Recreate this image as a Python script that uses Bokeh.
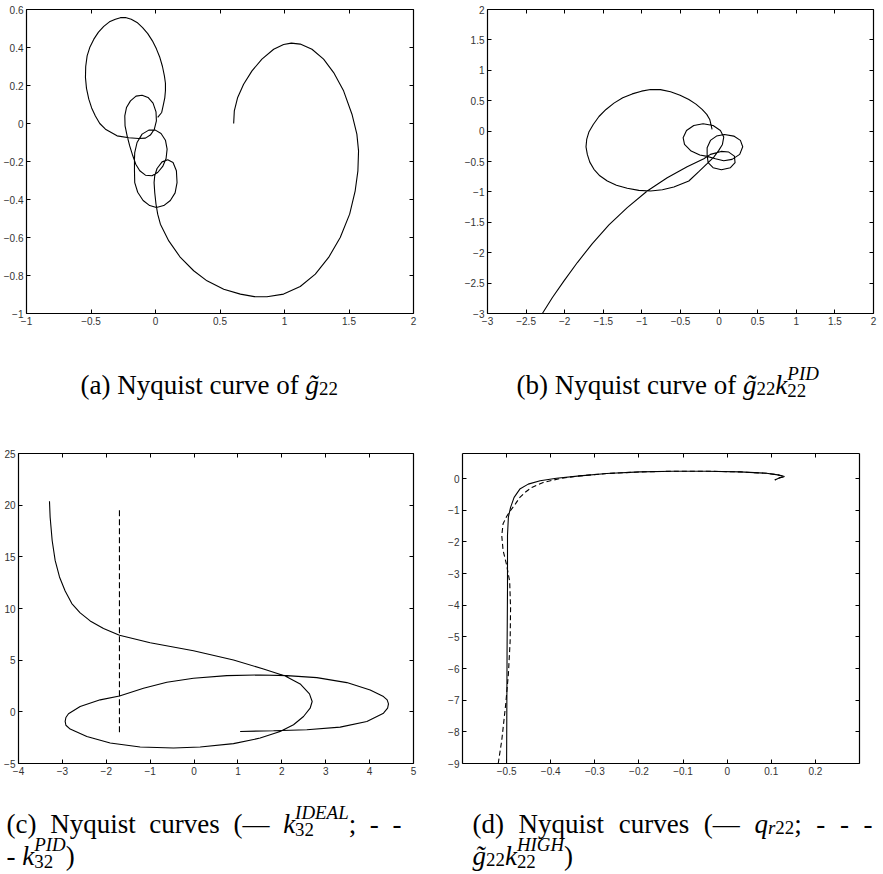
from bokeh.plotting import figure
from bokeh.layouts import column, row
from bokeh.models import Range1d, FixedTicker, LinearAxis, CustomJSTickFormatter, ColumnDataSource
from bokeh.core.properties import value
from bokeh.embed import file_html
from bokeh.resources import INLINE

# ---------------------------------------------------------------- data
# (a) Nyquist curve of g~22  (real / imaginary parts)
a_re = [0.606, 0.611, 0.637, 0.683, 0.748, 0.825, 0.916, 0.993, 1.053, 1.122, 1.213, 1.303, 1.381,
        1.458, 1.523, 1.561, 1.574, 1.569, 1.548, 1.505, 1.432, 1.342, 1.239, 1.122, 0.993, 0.864,
        0.766, 0.658, 0.529, 0.399, 0.296, 0.193, 0.103, 0.038, 0.017, 0.004, -0.006, -0.011, -0.006,
        0.012, 0.051, 0.095, 0.136, 0.162, 0.167, 0.152, 0.115, 0.064, 0.007, -0.045, -0.096, -0.138,
        -0.161, -0.163, -0.163, -0.161, -0.143, -0.104, -0.052, -0.001, 0.043, 0.077, 0.090, 0.082,
        0.056, 0.017, -0.027, -0.078, -0.122, -0.153, -0.176, -0.200, -0.220, -0.236, -0.238, -0.225,
        -0.194, -0.151, -0.104, -0.058, -0.019, 0.004, 0.007, -0.009, -0.040, -0.078, -0.130, -0.207,
        -0.298, -0.388, -0.432, -0.466, -0.495, -0.517, -0.535, -0.543, -0.541, -0.530, -0.508, -0.478,
        -0.442, -0.401, -0.357, -0.311, -0.272, -0.233, -0.188, -0.143, -0.100, -0.060, -0.024, 0.007,
        0.034, 0.054, 0.069, 0.077, 0.077, 0.072, 0.062, 0.048, 0.017, -0.009]
a_im = [0.0, 0.067, 0.137, 0.207, 0.277, 0.339, 0.391, 0.416, 0.423, 0.418, 0.391, 0.339, 0.268,
        0.172, 0.049, -0.056, -0.144, -0.249, -0.354, -0.477, -0.600, -0.705, -0.793, -0.858, -0.898,
        -0.912, -0.911, -0.898, -0.872, -0.828, -0.775, -0.705, -0.618, -0.530, -0.477, -0.425, -0.363,
        -0.311, -0.275, -0.237, -0.202, -0.191, -0.205, -0.249, -0.311, -0.365, -0.405, -0.432, -0.442,
        -0.432, -0.405, -0.362, -0.311, -0.249, -0.188, -0.153, -0.100, -0.056, -0.035, -0.035, -0.053,
        -0.088, -0.135, -0.184, -0.226, -0.258, -0.275, -0.272, -0.249, -0.214, -0.170, -0.118, -0.065,
        -0.012, 0.040, 0.084, 0.119, 0.144, 0.149, 0.137, 0.107, 0.061, 0.014, -0.030, -0.061, -0.077,
        -0.079, -0.075, -0.065, -0.030, 0.000, 0.040, 0.082, 0.128, 0.185, 0.242, 0.300, 0.356, 0.403,
        0.444, 0.481, 0.511, 0.535, 0.549, 0.557, 0.558, 0.549, 0.532, 0.505, 0.473, 0.435, 0.393,
        0.347, 0.300, 0.251, 0.212, 0.172, 0.135, 0.102, 0.058, 0.032]

# (b) Nyquist curve of g~22 * k22^PID
b_re = [-2.289, -2.159, -2.009, -1.836, -1.642, -1.427, -1.190, -0.931, -0.672, -0.414, -0.198,
        -0.112, 0.026, 0.125, 0.198, 0.207, 0.147, 0.030, -0.078, -0.142, -0.155, -0.155, -0.112,
        -0.034, 0.069, 0.190, 0.276, 0.306, 0.267, 0.168, 0.060, -0.047, -0.155, -0.250, -0.362,
        -0.448, -0.466, -0.422, -0.328, -0.207, -0.078, 0.017, 0.060, 0.043, -0.004, -0.069, -0.155,
        -0.263, -0.392, -0.586, -0.735, -0.888, -1.040, -1.190, -1.330, -1.448, -1.545, -1.621,
        -1.675, -1.707, -1.724, -1.715, -1.685, -1.630, -1.556, -1.465, -1.362, -1.248, -1.125,
        -1.005, -0.888, -0.760, -0.629, -0.505, -0.392, -0.300, -0.220, -0.160, -0.121, -0.091]
b_im = [-3.0, -2.737, -2.463, -2.162, -1.850, -1.544, -1.259, -0.985, -0.766, -0.586, -0.454,
        -0.383, -0.334, -0.345, -0.411, -0.520, -0.602, -0.635, -0.602, -0.520, -0.394, -0.274,
        -0.153, -0.082, -0.055, -0.082, -0.153, -0.257, -0.383, -0.465, -0.487, -0.454, -0.416,
        -0.394, -0.328, -0.219, -0.109, 0.011, 0.093, 0.120, 0.093, 0.011, -0.099, -0.219, -0.317,
        -0.427, -0.536, -0.668, -0.821, -0.920, -0.965, -0.985, -0.975, -0.941, -0.890, -0.821,
        -0.735, -0.629, -0.510, -0.383, -0.260, -0.137, -0.010, 0.109, 0.240, 0.356, 0.460, 0.547,
        0.612, 0.657, 0.684, 0.682, 0.646, 0.590, 0.520, 0.444, 0.356, 0.275, 0.192, 0.027]

# (c) k32^IDEAL (solid) and k32^PID (dashed)
c_ideal_re = [-3.294, -3.279, -3.233, -3.165, -3.066, -2.937, -2.785, -2.595, -2.367, -2.063, -1.699,
              -1.000, -0.013, 0.899, 1.582, 2.076, 2.418, 2.630, 2.691, 2.645, 2.494, 2.266, 1.962,
              1.506, 0.899, 0.139, -0.468, -1.228, -1.911, -2.443, -2.823, -2.920, -2.937, -2.920,
              -2.861, -2.595, -2.139, -1.699, -1.152, -0.620, -0.013, 0.747, 1.506, 2.114, 2.798,
              3.481, 4.013, 4.316, 4.400, 4.430, 4.410, 4.316, 3.937, 3.329, 2.570, 1.810, 1.050]
c_ideal_im = [20.37, 18.83, 16.58, 14.65, 13.05, 11.70, 10.48, 9.58, 8.80, 8.07, 7.42,
              6.68, 5.91, 5.01, 4.15, 3.47, 2.70, 1.74, 1.00, 0.35, -0.45, -1.25, -1.90,
              -2.54, -3.08, -3.41, -3.50, -3.41, -3.02, -2.38, -1.67, -1.30, -0.93, -0.55,
              -0.19, 0.51, 1.16, 1.54, 2.28, 2.86, 3.25, 3.50, 3.57, 3.50, 3.31,
              2.83, 2.12, 1.48, 1.15, 0.77, 0.35, -0.13, -0.93, -1.48, -1.74, -1.83, -1.90]
c_pid_re = [-1.70, -1.70, -1.70, -1.70, -1.70]
c_pid_im = [19.5, 14.0, 8.0, 2.0, -2.1]

# (d) q_r22 (solid) and g~22 * k22^HIGH (dashed)
d_qr_re = [-0.500, -0.499, -0.498, -0.498, -0.496, -0.491, -0.483, -0.470, -0.451, -0.424, -0.387,
           -0.334, -0.273, -0.198, -0.122, -0.047, 0.029, 0.089, 0.115, 0.130, 0.118, 0.108]
d_qr_im = [-9.0, -5.55, -3.47, -1.80, -1.22, -0.91, -0.595, -0.334, -0.177, -0.073, 0.010,
           0.084, 0.157, 0.209, 0.230, 0.230, 0.209, 0.167, 0.115, 0.063, 0.020, -0.045]
d_high_re = [-0.519, -0.511, -0.502, -0.496, -0.492, -0.491, -0.493, -0.500, -0.508, -0.511, -0.508,
             -0.500, -0.491, -0.480, -0.470, -0.458, -0.443, -0.417, -0.379, -0.334, -0.273, -0.198,
             -0.122, -0.047, 0.029, 0.089, 0.115, 0.130, 0.118, 0.108]
d_high_im = [-9.0, -8.27, -7.12, -6.18, -5.14, -4.09, -3.26, -2.73, -2.27, -1.80, -1.43,
             -1.20, -1.01, -0.80, -0.595, -0.438, -0.28, -0.125, 0.0, 0.084, 0.157, 0.209,
             0.230, 0.230, 0.209, 0.167, 0.115, 0.063, 0.020, -0.045]

# tick positions
a_xticks = [-1, -0.5, 0, 0.5, 1, 1.5, 2]
a_yticks = [-1, -0.8, -0.6, -0.4, -0.2, 0, 0.2, 0.4, 0.6]
b_xticks = [-3, -2.5, -2, -1.5, -1, -0.5, 0, 0.5, 1, 1.5, 2]
b_yticks = [-3, -2.5, -2, -1.5, -1, -0.5, 0, 0.5, 1, 1.5, 2]
c_xticks = [-4, -3, -2, -1, 0, 1, 2, 3, 4, 5]
c_yticks = [-5, 0, 5, 10, 15, 20, 25]
d_xticks = [-0.5, -0.4, -0.3, -0.2, -0.1, 0, 0.1, 0.2]
d_yticks = [-9, -8, -7, -6, -5, -4, -3, -2, -1, 0]

# ---------------------------------------------------------------- panels
TICK_CODE = """
const v = Math.round(tick * 1000) / 1000;
const s = String(Math.abs(v));
return v < 0 ? "\u2212" + s : s;
"""


def make_axis(ticks, show_labels):
    ax = LinearAxis(ticker=FixedTicker(ticks=ticks),
                    formatter=CustomJSTickFormatter(code=TICK_CODE))
    ax.axis_line_color = "black"
    ax.axis_line_width = 1.2
    ax.major_tick_line_color = "black"
    ax.major_tick_in = 4
    ax.major_tick_out = 0
    ax.minor_tick_line_color = None
    if show_labels:
        ax.major_label_text_font = "Liberation Sans"
        ax.major_label_text_font_size = "10px"
        ax.major_label_text_color = "#333333"
        ax.major_label_standoff = 3
    else:
        # mirrored tick marks only
        ax.major_label_text_color = None
        ax.major_label_text_font_size = "1px"
        ax.major_label_standoff = 0
    return ax


def make_panel(width, height, left, right, top, bottom, xr, yr, xticks, yticks):
    p = figure(width=width, height=height, x_range=Range1d(*xr), y_range=Range1d(*yr),
               output_backend="svg", toolbar_location=None, tools="",
               x_axis_location=None, y_axis_location=None,
               min_border_left=left, min_border_right=right,
               min_border_top=top, min_border_bottom=bottom)
    p.outline_line_color = None
    p.background_fill_color = "white"
    p.border_fill_color = "white"
    for g in p.grid:
        g.visible = False
    p.add_layout(make_axis(xticks, True), "below")
    p.add_layout(make_axis(yticks, True), "left")
    p.add_layout(make_axis(xticks, False), "above")
    p.add_layout(make_axis(yticks, False), "right")
    return p


pa = make_panel(441, 340, 26, 28, 9, 27, (-1, 2), (-1, 0.6), a_xticks, a_yticks)
pa.line(a_re, a_im, line_color="black", line_width=1.1)

pb = make_panel(442, 340, 46, 10, 7, 27, (-3, 2), (-3, 2), b_xticks, b_yticks)
pb.line(b_re, b_im, line_color="black", line_width=1.1)

pc = make_panel(441, 370, 18, 28, 33, 27, (-4, 5), (-5, 25), c_xticks, c_yticks)
pc.line(c_ideal_re, c_ideal_im, line_color="black", line_width=1.1)
pc.line(c_pid_re, c_pid_im, line_color="black", line_width=1.1, line_dash="6 3")

pd = make_panel(442, 370, 21, 24, 31, 27, (-0.6, 0.3), (-9, 0.79), d_xticks, d_yticks)
pd.line(d_qr_re, d_qr_im, line_color="black", line_width=1.1)
pd.line(d_high_re, d_high_im, line_color="black", line_width=1.1, line_dash="5 3")

# ---------------------------------------------------------------- captions
# advance widths (1/1000 em) of the serif face, upright and italic
RM = {' ': 250, '(': 333, ')': 333, ';': 278, '-': 333, '\u2014': 1000, 'a': 444, 'b': 500,
      'c': 444, 'd': 500, 'e': 444, 'f': 333, 'g': 500, 'i': 278, 'k': 500, 'n': 500, 'o': 500,
      'q': 500, 'r': 333, 's': 389, 't': 278, 'u': 500, 'v': 500, 'y': 500, 'N': 722, '2': 500,
      '3': 500}
IT = {' ': 250, 'g': 500, 'k': 444, 'q': 500, 'r': 389, 'I': 333, 'D': 722, 'E': 611, 'A': 611,
      'L': 556, 'P': 611, 'H': 722, 'G': 722, '\u0303': 0}


def run_w(txt, italic, size):
    table = IT if italic else RM
    return sum(table.get(ch, 500) for ch in txt) * size / 1000.0


def place(tokens, x0, y0, F, extra=0.0):
    """Lay out a caption line; returns pieces (x, y, text, size, italic), end x, space count."""
    small = 0.7 * F
    out, x, nsp = [], x0, 0
    for tok in tokens:
        kind = tok[0]
        if kind == "base":
            for style, txt in tok[1]:
                it = style == "it"
                parts = txt.split(" ")
                for i, part in enumerate(parts):
                    if part:
                        out.append((x, y0, part, F, it))
                        x += run_w(part, it, F)
                    if i < len(parts) - 1:
                        x += run_w(" ", it, F) + extra
                        nsp += 1
        elif kind == "sub":
            xx = x
            for style, txt in tok[1]:
                out.append((xx, y0 + 0.15 * F, txt, small, style == "it"))
                xx += run_w(txt, style == "it", small)
            x = xx
        elif kind == "subsup":
            xs = x
            for style, txt in tok[1]:
                out.append((xs, y0 - 0.40 * F, txt, small, style == "it"))
                xs += run_w(txt, style == "it", small)
            xb = x
            for style, txt in tok[2]:
                out.append((xb, y0 + 0.24 * F, txt, small, style == "it"))
                xb += run_w(txt, style == "it", small)
            x = max(xs, xb)
    return out, x, nsp


def line_pieces(tokens, x0, y0, F, target=None):
    out, xend, nsp = place(tokens, x0, y0, F)
    if target is not None and nsp:
        out, xend, nsp = place(tokens, x0, y0, F, (target - (xend - x0)) / nsp)
    return out


def caption_fig(height, pieces):
    p = figure(width=883, height=height, x_range=Range1d(0, 883), y_range=Range1d(height, 0),
               output_backend="svg", toolbar_location=None, tools="",
               x_axis_location=None, y_axis_location=None, min_border=0)
    p.outline_line_color = None
    p.background_fill_color = "white"
    p.border_fill_color = "white"
    for g in p.grid:
        g.visible = False
    groups = {}
    for x, y, t, s, it in pieces:
        groups.setdefault((s, it), []).append((x, y, t))
    for (s, it), items in groups.items():
        src = ColumnDataSource(dict(x=[i[0] for i in items], y=[i[1] for i in items],
                                    text=[i[2] for i in items]))
        p.text(x="x", y="y", text="text", source=src,
               text_font=value("Liberation Serif"), text_font_size=value(f"{s:.1f}px"),
               text_font_style=value("italic" if it else "normal"),
               text_baseline=value("alphabetic"), text_align=value("left"),
               text_color="black")
    return p


F = 27
cap_a = [("base", [("rm", "(a) Nyquist curve of "), ("it", "g\u0303")]), ("sub", [("rm", "22")])]
cap_b = [("base", [("rm", "(b) Nyquist curve of "), ("it", "g\u0303")]), ("sub", [("rm", "22")]),
         ("base", [("it", "k")]), ("subsup", [("it", "PID")], [("rm", "22")])]
cap_c1 = [("base", [("rm", "(c) Nyquist curves (\u2014 "), ("it", "k")]),
          ("subsup", [("it", "IDEAL")], [("rm", "32")]), ("base", [("rm", "; - -")])]
cap_c2 = [("base", [("rm", "- "), ("it", "k")]), ("subsup", [("it", "PID")], [("rm", "32")]),
          ("base", [("rm", ")")])]
cap_d1 = [("base", [("rm", "(d) Nyquist curves (\u2014 "), ("it", "q")]),
          ("sub", [("it", "r"), ("rm", "22")]), ("base", [("rm", "; - - -")])]
cap_d2 = [("base", [("it", "g\u0303")]), ("sub", [("rm", "22")]), ("base", [("it", "k")]),
          ("subsup", [("it", "HIGH")], [("rm", "22")]), ("base", [("rm", ")")])]

cap_top = caption_fig(80, line_pieces(cap_a, 80, 44, F) + line_pieces(cap_b, 516, 44, F))
cap_bot = caption_fig(84, line_pieces(cap_c1, 6, 33, F, target=395)
                      + line_pieces(cap_c2, 6, 65, F)
                      + line_pieces(cap_d1, 472, 33, F, target=400)
                      + line_pieces(cap_d2, 472, 65, F))

page = column(row(pa, pb), cap_top, row(pc, pd), cap_bot)

open("out.html", "w").write(file_html(page, INLINE))
